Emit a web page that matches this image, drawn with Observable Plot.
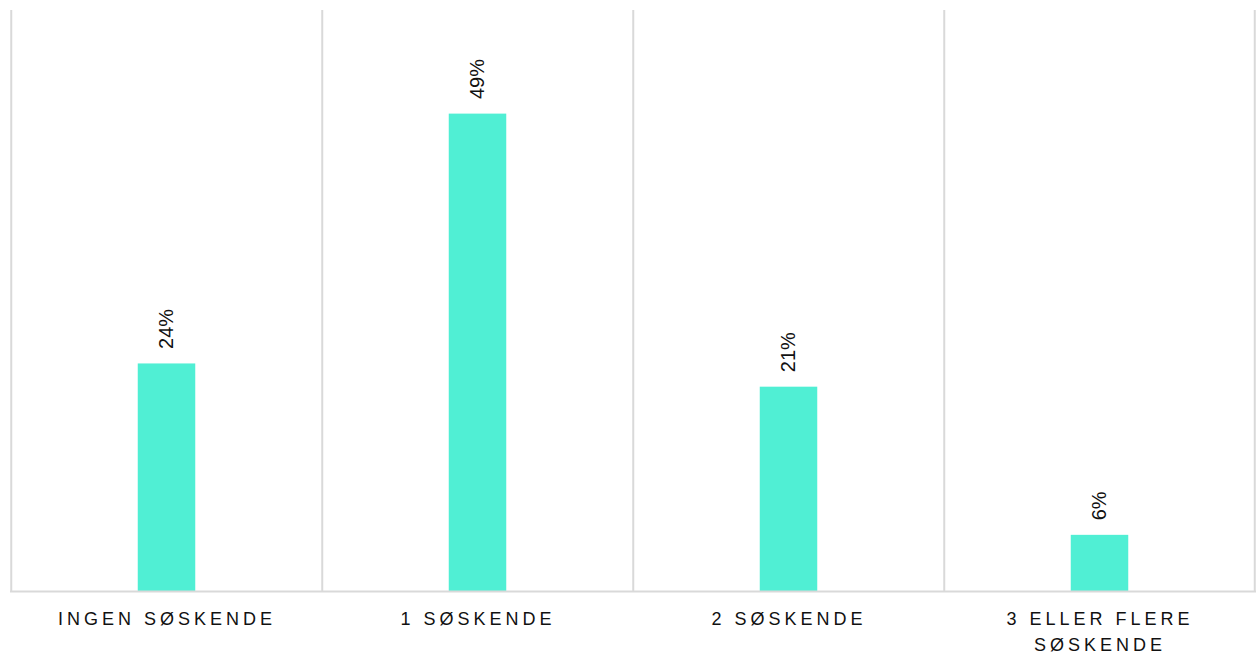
<!DOCTYPE html>
<html>
<head>
<meta charset="utf-8">
<script src="https://cdn.jsdelivr.net/npm/d3@7"></script>
<script src="https://cdn.jsdelivr.net/npm/@observablehq/plot@0.6"></script>
<style>
  html, body { margin: 0; padding: 0; background: #fff; }
  #chart svg { display: block; }
  #chart g[aria-label="x-axis tick label"] text { letter-spacing: 4px; }
</style>
</head>
<body>
<div id="chart"></div>
<script>
const categories = ["INGEN SØSKENDE", "1 SØSKENDE", "2 SØSKENDE", "3 ELLER FLERE\nSØSKENDE"];
const values = [23.5, 49.3, 21.1, 5.8];
const valueLabels = ["24%", "49%", "21%", "6%"];

const data = categories.map((c, i) => ({cat: c, value: values[i], label: valueLabels[i]}));

const W = 1258, H = 657;
const mL = 10, mR = 2, mT = 10, mB = 66;
const bw = (W - mL - mR) / categories.length;
const barW = 58;
const inset = (bw - barW) / 2;
const grid = "#d9d9d9";

const chart = Plot.plot({
  width: W,
  height: H,
  marginLeft: mL,
  marginRight: mR,
  marginTop: mT,
  marginBottom: mB,
  style: {fontFamily: "'Liberation Sans', Arial, sans-serif", color: "#111", background: "#fff"},
  x: {domain: categories, padding: 0, label: null},
  y: {domain: [0, 60], axis: null},
  marks: [
    Plot.ruleX(categories, {x: d => d, dx: -bw / 2, y1: 0, y2: 60, stroke: grid, strokeWidth: 2}),
    Plot.ruleX([categories[categories.length - 1]], {x: d => d, dx: bw / 2 - 1, y1: 0, y2: 60, stroke: grid, strokeWidth: 2}),
    Plot.barY(data, {x: "cat", y: "value", fill: "#50efd4", insetLeft: inset, insetRight: inset}),
    Plot.ruleY([0], {stroke: grid, strokeWidth: 2}),
    Plot.text(data, {x: "cat", y: "value", text: "label", rotate: -90, textAnchor: "start", lineAnchor: "middle", dy: -15, fontSize: 20, fill: "#111"}),
    Plot.axisX({tickSize: 0, tickPadding: 15, fontSize: 18, lineHeight: 1.45, lineAnchor: "top", fill: "#111", label: null})
  ]
});
document.getElementById("chart").appendChild(chart);
</script>
</body>
</html>
